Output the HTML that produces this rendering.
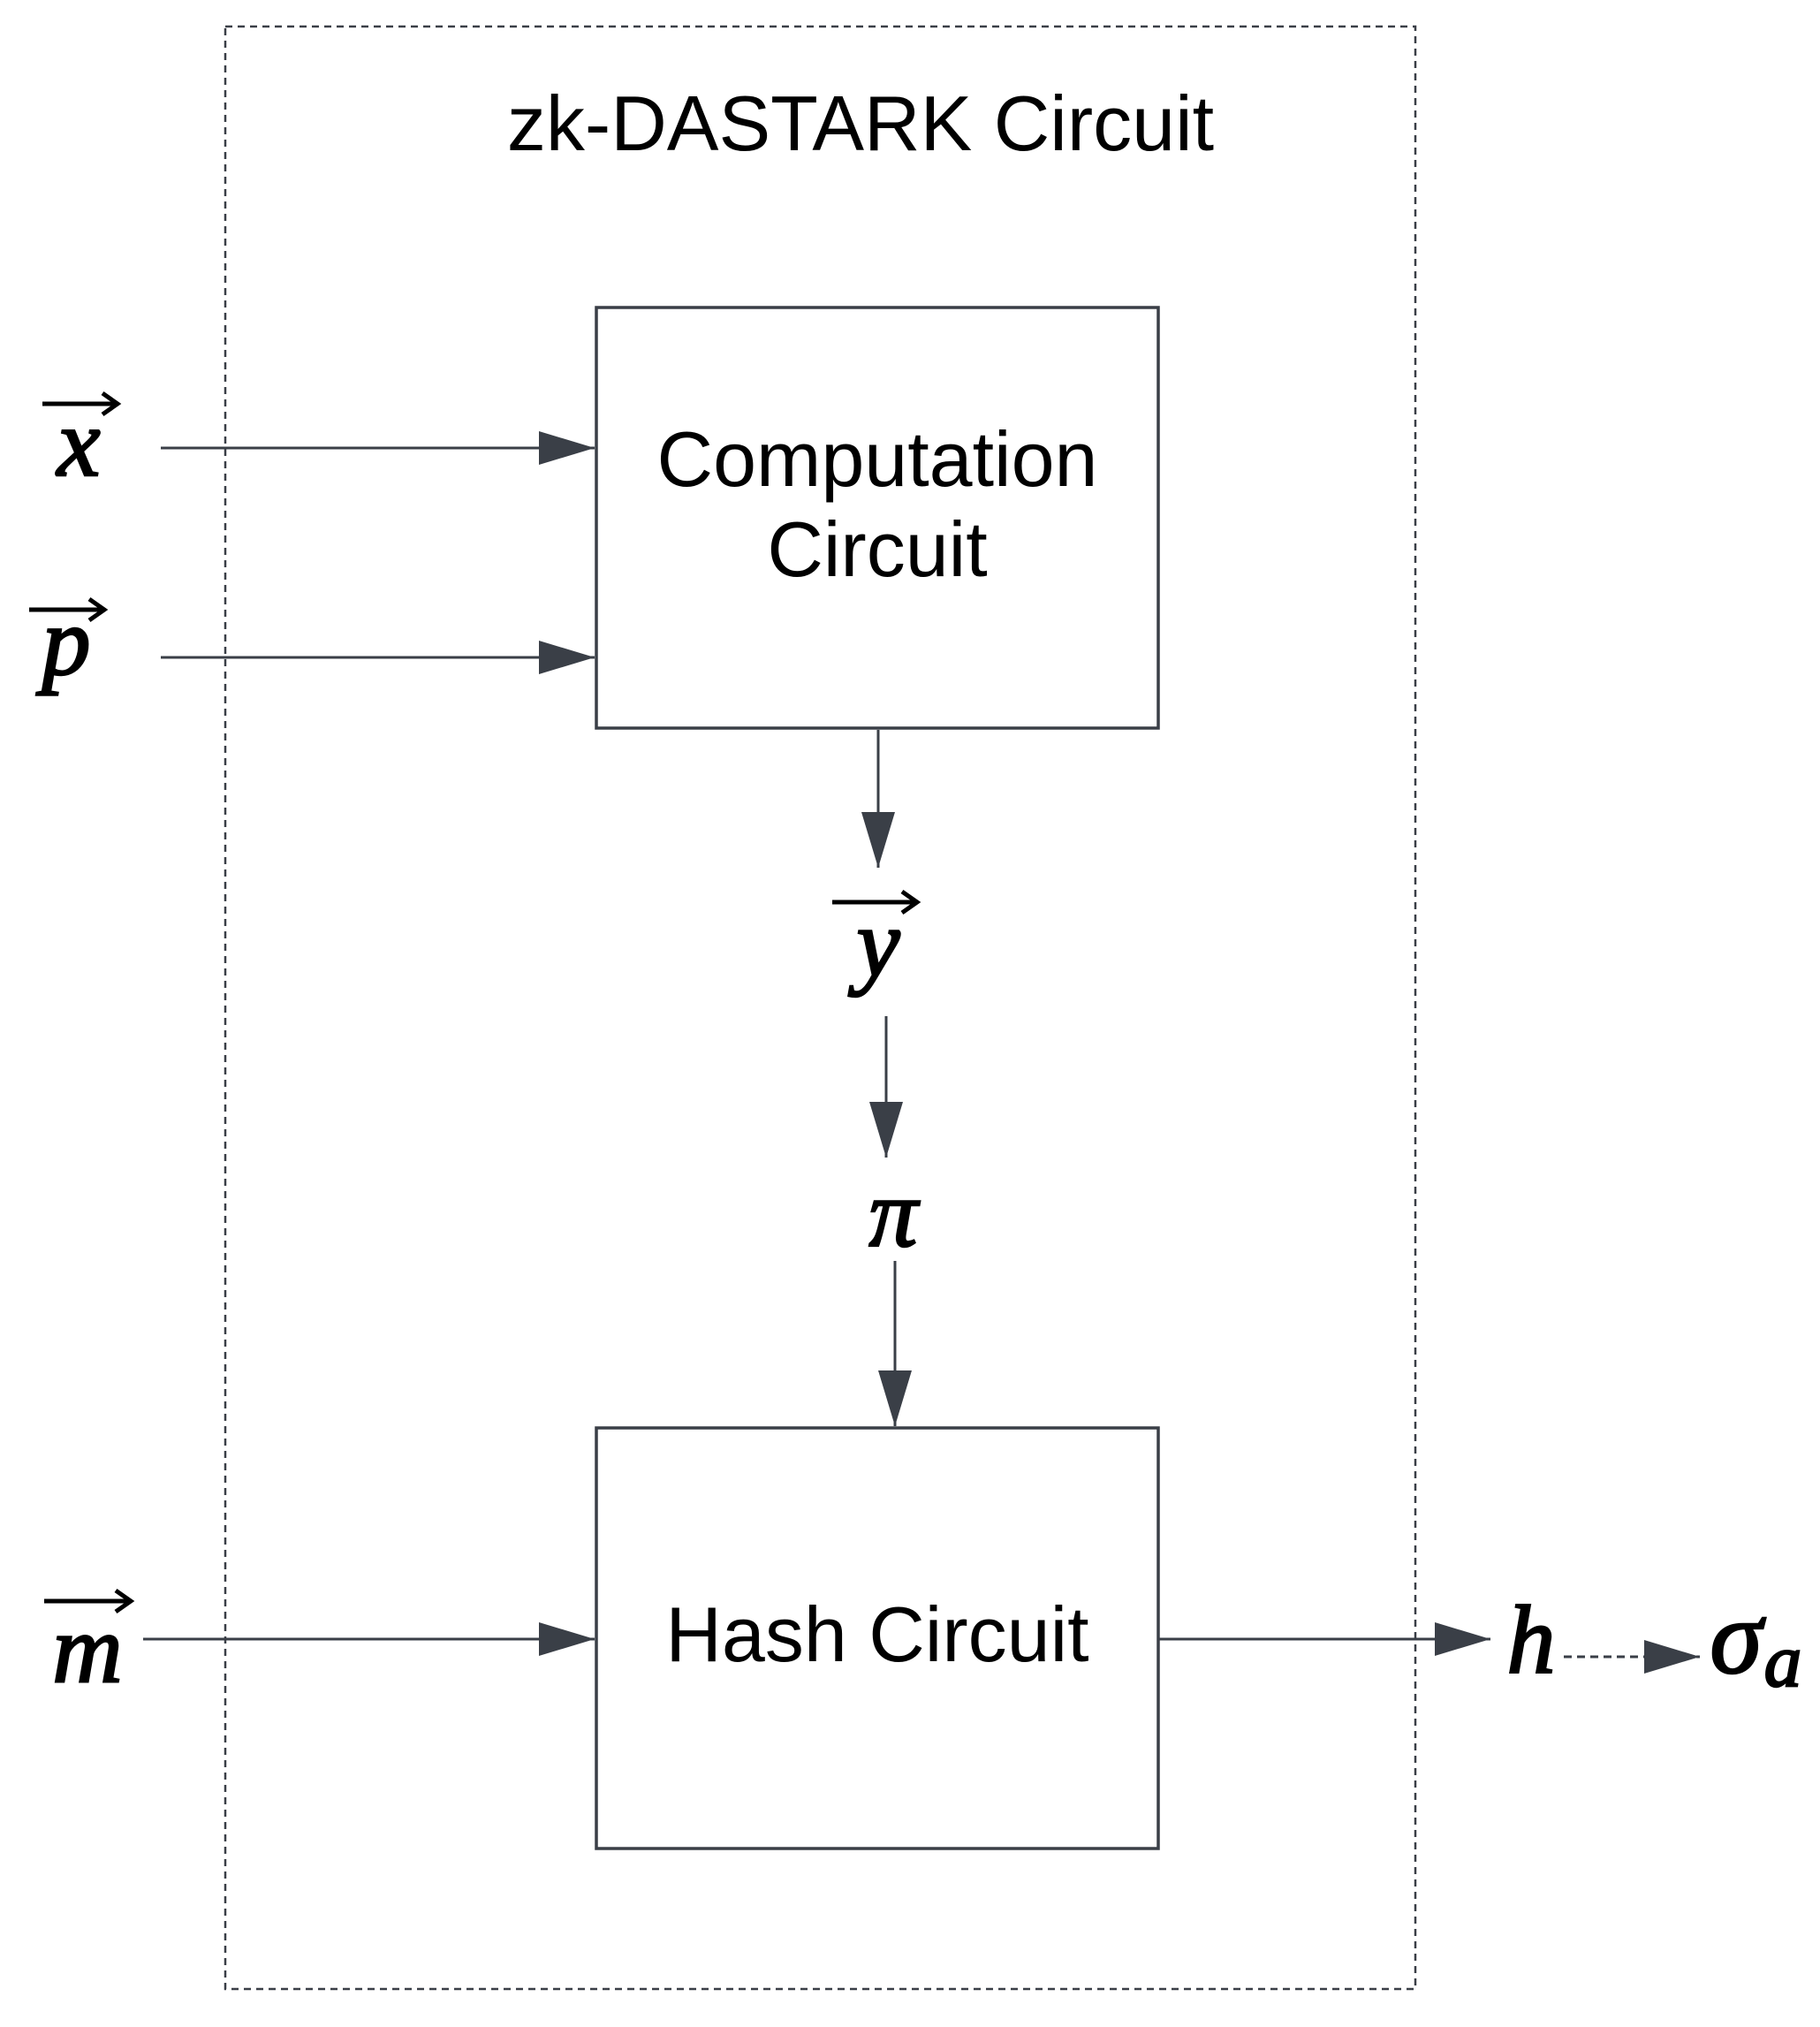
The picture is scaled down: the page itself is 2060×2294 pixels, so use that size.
<!DOCTYPE html>
<html><head><meta charset="utf-8"><style>html,body{margin:0;padding:0;background:#fff}</style></head>
<body>
<svg width="2060" height="2289" viewBox="0 0 2060 2289" xmlns="http://www.w3.org/2000/svg">
<defs>
<marker id="ah" markerUnits="userSpaceOnUse" markerWidth="63" markerHeight="38" refX="63" refY="19" orient="auto">
<path d="M0,0 L63,19 L0,38 Z" fill="#3a3f47"/>
</marker>
</defs>
<g fill="none" stroke="#3a3f47">
<rect x="255" y="30" width="1347" height="2221" stroke-width="2.5" stroke-dasharray="8,6"/>
<rect x="675" y="348" width="636" height="476" stroke-width="3.5"/>
<rect x="675" y="1616" width="636" height="476" stroke-width="3.5"/>
<g stroke-width="3" marker-end="url(#ah)">
<line x1="182" y1="507" x2="673" y2="507"/>
<line x1="182" y1="744" x2="673" y2="744"/>
<line x1="162" y1="1855" x2="673" y2="1855"/>
<line x1="994" y1="826" x2="994" y2="982"/>
<line x1="1003" y1="1150" x2="1003" y2="1310"/>
<line x1="1013" y1="1427" x2="1013" y2="1614"/>
<line x1="1311" y1="1855" x2="1687" y2="1855"/>
<line x1="1770" y1="1875" x2="1924" y2="1875" stroke-dasharray="9,6"/>
</g>
</g>
<g font-family="Liberation Sans, sans-serif" font-size="88" fill="#000" text-anchor="middle">
<text x="974" y="170">zk-DASTARK Circuit</text>
<text x="993" y="550">Computation</text>
<text x="993" y="652">Circuit</text>
<text x="993" y="1880">Hash Circuit</text>
</g>
<g font-family="Liberation Serif, serif" font-style="italic" font-size="110" fill="#000" stroke="#000" stroke-width="2.5" text-anchor="middle">
<text x="89" y="538">x</text>
<text x="75" y="763">p</text>
<text x="99" y="1903">m</text>
<text x="994" y="1104">y</text>
<text x="1011" y="1410">π</text>
<text x="1733" y="1893">h</text>
<text x="1965" y="1893" font-size="120">σ</text>
<text x="2018" y="1908" font-size="85">a</text>
</g>
<g stroke="#000" stroke-width="5" fill="none">
<path d="M48,457 H130 M116,445 L133,457 L116,469"/>
<path d="M33,690 H115 M101,678 L118,690 L101,702"/>
<path d="M50,1812 H145 M131,1800 L148,1812 L131,1824"/>
<path d="M942,1021 H1035 M1021,1009 L1038,1021 L1021,1033"/>
</g>
</svg>
</body></html>
